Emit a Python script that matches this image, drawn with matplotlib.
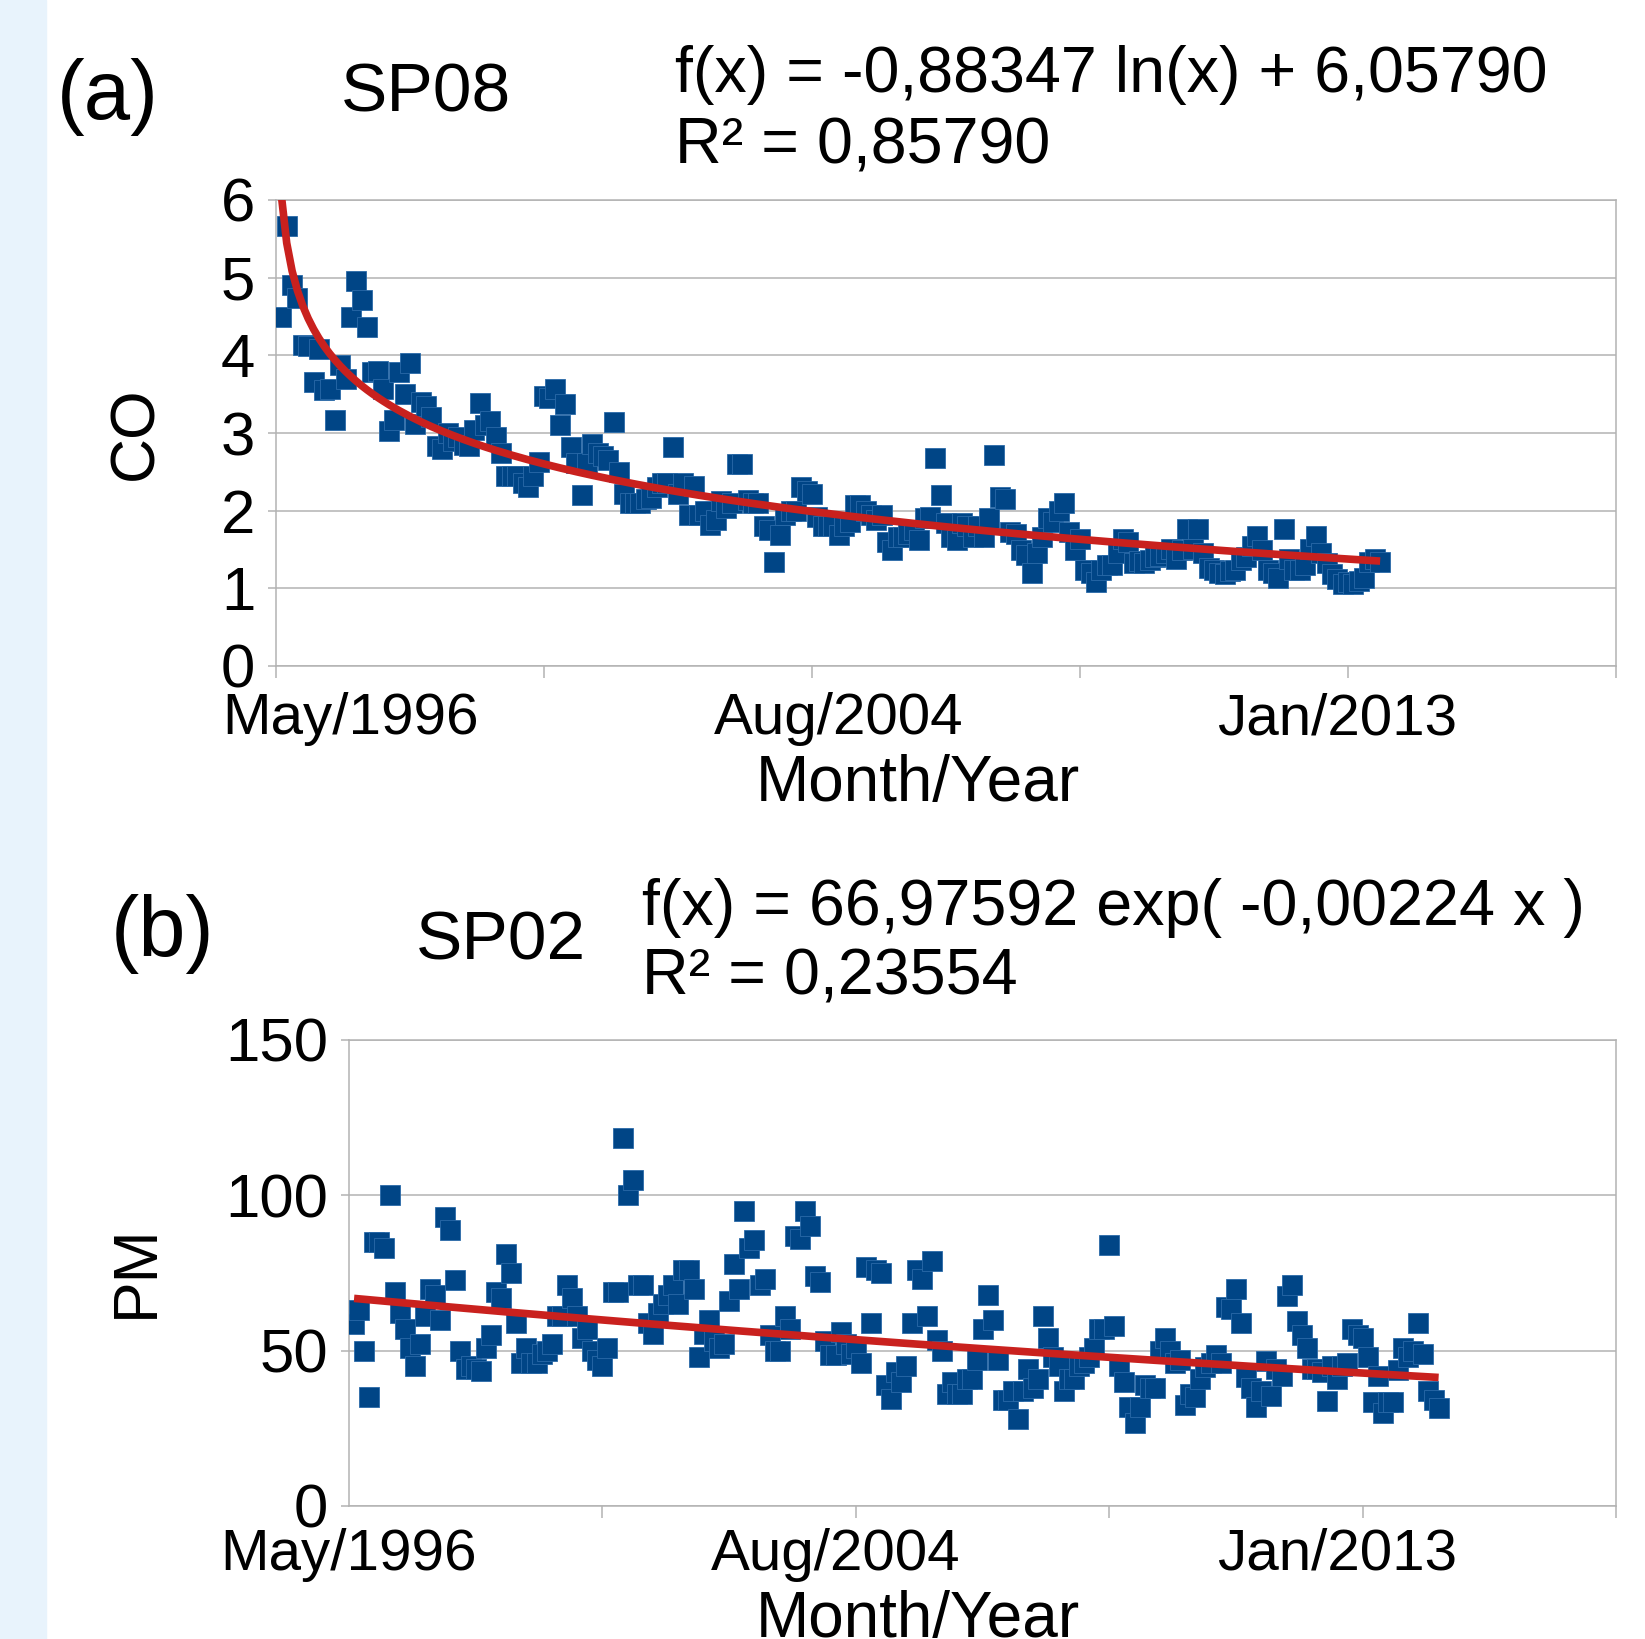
import matplotlib.pyplot as plt
from matplotlib.patches import Rectangle
import numpy as np

plt.rcParams['font.family'] = ['Liberation Sans', 'DejaVu Sans']

# colours
blauw = "#004586"
rood = "#c9211e"
grijs = "#b3b3b3"

# panel (a): SP08, CO per month (month 1 = May/1996)
co_values = [
    4.5, 5.66, 4.9, 4.74, 4.13, 4.12, 3.66, 4.08, 3.56, 3.57,
    3.17, 3.88, 3.7, 4.49, 4.96, 4.71, 4.37, 3.78, 3.8, 3.57,
    3.03, 3.17, 3.78, 3.5, 3.9, 3.12, 3.4, 3.35, 3.2, 2.83,
    2.8, 3.0, 2.9, 2.95, 2.85, 2.83, 3.04, 3.38, 3.1, 3.16,
    2.95, 2.74, 2.44, 2.45, 2.44, 2.35, 2.3, 2.45, 2.63, 3.47,
    3.45, 3.57, 3.1, 3.37, 2.82, 2.62, 2.2, 2.62, 2.86, 2.74,
    2.7, 2.65, 3.14, 2.5, 2.22, 2.1, 2.1, 2.1, 2.15, 2.16,
    2.3, 2.35, 2.35, 2.82, 2.22, 2.35, 1.94, 2.32, 1.94, 2.0,
    1.82, 1.88, 2.12, 2.03, 2.1, 2.6, 2.6, 2.14, 2.1, 2.1,
    1.8, 1.75, 1.34, 1.69, 1.94, 1.99, 1.99, 2.3, 2.25, 2.22,
    1.92, 1.8, 1.8, 1.8, 1.69, 1.8, 1.85, 2.07, 2.07, 2.0,
    1.94, 1.88, 1.95, 1.6, 1.5, 1.66, 1.66, 1.7, 1.75, 1.62,
    1.9, 1.92, 2.68, 2.2, 1.84, 1.66, 1.62, 1.84, 1.8, 1.66,
    1.8, 1.66, 1.9, 2.72, 2.18, 2.15, 1.73, 1.7, 1.5, 1.43,
    1.2, 1.45, 1.66, 1.9, 1.85, 2.0, 2.1, 1.73, 1.5, 1.64,
    1.23, 1.2, 1.08, 1.23, 1.3, 1.3, 1.45, 1.64, 1.6, 1.32,
    1.35, 1.32, 1.36, 1.4, 1.42, 1.45, 1.51, 1.38, 1.5, 1.76,
    1.51, 1.77, 1.45, 1.26, 1.23, 1.2, 1.19, 1.22, 1.23, 1.36,
    1.4, 1.55, 1.68, 1.5, 1.23, 1.2, 1.13, 1.77, 1.38, 1.23,
    1.23, 1.3, 1.51, 1.67, 1.45, 1.32, 1.19, 1.12, 1.06, 1.08,
    1.06, 1.1, 1.13, 1.34, 1.38, 1.34,
]
co_fit = [-0.88347, 6.05790]  # f(x) = a ln(x) + b
co_r2 = "0,85790"

# panel (b): SP02, PM per month
pm_values = [
    58.7, 63, 50, 35, 85, 85, 83, 100, 69, 62,
    57, 51, 45, 52, 61, 70, 68, 60, 93, 89,
    72.7, 50, 44, 45, 44, 43.5, 51, 55, 69, 67,
    81, 75, 59, 46, 51, 46, 46, 49, 50, 52,
    61, 61, 71, 67, 61, 54, 57, 50, 47, 45,
    51, 69, 69, 118.5, 100, 105, 71, 71, 59, 55.5,
    62, 65, 68, 71, 65, 76, 76, 70, 48, 55.5,
    60, 53, 51, 52, 66, 78, 70, 95, 83, 85.5,
    71, 73, 55, 50, 50, 61, 57, 87, 86, 95,
    90, 74, 72, 53, 48.5, 48.5, 56, 52, 49, 51,
    46, 77, 59, 76, 75, 39, 34.6, 43, 40, 45,
    59, 76, 73, 61, 79, 53.5, 50, 36, 40, 36,
    36, 41, 41, 47, 57, 68, 60, 47, 34, 34,
    37, 28, 37, 44, 38, 41, 61, 54, 48, 45,
    37, 41, 41, 45, 46, 48, 51, 57, 57, 84,
    58, 45, 40, 32, 26.6, 32, 39, 38, 38, 50,
    54, 50, 46, 47, 32.5, 36, 35, 41, 44.6, 46,
    48.5, 46, 64, 63.5, 70, 59, 41.6, 38, 32, 37,
    46.7, 35.5, 44, 42, 67.5, 71, 59.6, 55, 50.7, 44,
    44, 43, 33.8, 45, 41, 45, 46, 57, 55, 54,
    48, 33.5, 42, 30, 33.5, 33.5, 43.7, 51, 48, 50,
    59, 49, 37, 34, 31.7,
]
pm_fit = [66.97592, -0.00224]  # f(x) = a exp(k x)
pm_r2 = "0,23554"

x_labels = ["May/1996", "Aug/2004", "Jan/2013"]

W, H = 1645, 1639
fig = plt.figure(figsize=(W / 100, H / 100), dpi=100)
fig.patches.append(Rectangle((0, 0), 46 / W, 1, transform=fig.transFigure,
                             color="#e8f3fc", zorder=0))


def px(x, y):
    return x / W, 1 - y / H


def paneel(rect, maanden, waarden, trend, ymax, ystap, label_pos, xpad):
    ax = fig.add_axes(rect)
    ax.set_xlim(0, 250)
    ax.set_ylim(0, ymax)
    ax.set_yticks(np.arange(0, ymax + 1, ystap))
    ax.grid(axis="y", color=grijs, linewidth=1.1)
    ax.set_axisbelow(True)
    for s in ax.spines.values():
        s.set_color(grijs)
        s.set_linewidth(1.1)
    ax.plot(maanden, waarden, "s", color=blauw, markersize=14,
            markeredgewidth=0.6, markeredgecolor="#2a6aa8", zorder=3)
    ax.plot(maanden, trend, color=rood, linewidth=5.5, zorder=4,
            solid_capstyle="butt")
    ax.set_xticks(label_pos, x_labels)
    ax.set_xticks(np.arange(0, 251, 50), minor=True)
    ax.tick_params(axis="x", which="major", length=0, pad=xpad, labelsize=42)
    ax.tick_params(axis="x", which="minor", length=8.5, width=1.1,
                   color=grijs, direction="out")
    ax.tick_params(axis="y", length=6, width=1.1, color=grijs, pad=9,
                   labelsize=44.5)
    return ax


# panel (a)
co_maanden = np.arange(1, len(co_values) + 1)
co_trend = co_fit[0] * np.log(co_maanden) + co_fit[1]
paneel([276 / W, 1 - 666 / H, 1340 / W, 466 / H], co_maanden, co_values,
       co_trend, 6, 1, [14, 105, 198], 19)

# panel (b)
pm_maanden = np.arange(1, len(pm_values) + 1)
pm_trend = pm_fit[0] * np.exp(pm_fit[1] * pm_maanden)
paneel([349 / W, 1 - 1506 / H, 1267 / W, 466 / H], pm_maanden, pm_values,
       pm_trend, 150, 50, [0, 96, 195], 15.5)

# teksten
fig.text(*px(108, 97), "(a)", fontsize=60, ha="center", va="center")
fig.text(*px(426, 94), "SP08", fontsize=50, ha="center", va="center")
fig.text(*px(675, 92), "f(x) = -0,88347 ln(x) + 6,05790", fontsize=46.5,
         ha="left", va="baseline")
fig.text(*px(675, 163), "R² = " + co_r2, fontsize=46.5, ha="left",
         va="baseline")
fig.text(*px(918, 784), "Month/Year", fontsize=46, ha="center", va="center")
fig.text(*px(136, 433), "CO", fontsize=45, ha="center", va="center",
         rotation=90)

fig.text(*px(163, 934), "(b)", fontsize=61, ha="center", va="center")
fig.text(*px(501, 942), "SP02", fontsize=50, ha="center", va="center")
fig.text(*px(642, 925), "f(x) = 66,97592 exp( -0,00224 x )", fontsize=46.5,
         ha="left", va="baseline")
fig.text(*px(642, 995), "R² = " + pm_r2, fontsize=46.5, ha="left",
         va="baseline")
fig.text(*px(918, 1620), "Month/Year", fontsize=46, ha="center", va="center")
fig.text(*px(136, 1271), "PM", fontsize=45, ha="center", va="center",
         rotation=90)

fig.savefig("out.png", dpi=100)
